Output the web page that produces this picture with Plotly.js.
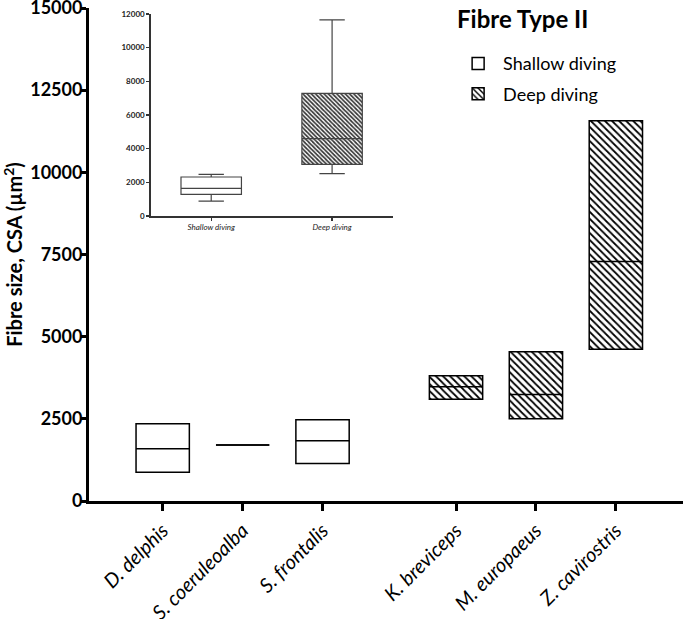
<!DOCTYPE html>
<html>
<head>
<meta charset="utf-8">
<script src="https://cdn.plot.ly/plotly-3.0.1.min.js"></script>
<style>html,body{margin:0;padding:0;background:#fff;}#chart{width:685px;height:619px;}</style>
</head>
<body>
<div id="chart"></div>
<script>
// ---- main chart data ----
const shallowSpecies = ["D. delphis", "S. coeruleoalba", "S. frontalis"];
const shallowPos = [1, 2, 3];
const shallowQ1 = [877, 1702, 1140];
const shallowMedian = [1593, 1702, 1835];
const shallowQ3 = [2349, 1702, 2470];

const deepSpecies = ["K. breviceps", "M. europaeus", "Z. cavirostris"];
const deepPos = [4.67, 5.67, 6.67];
const deepQ1 = [3093, 2500, 4616];
const deepMedian = [3476, 3244, 7285];
const deepQ3 = [3809, 4544, 11569];

const yTicks = [0, 2500, 5000, 7500, 10000, 12500, 15000];

// ---- inset data ----
const insetGroups = ["Shallow diving", "Deep diving"];
const insetLow = [891, 2513];
const insetQ1 = [1289, 3071];
const insetMedian = [1645, 4592];
const insetQ3 = [2317, 7288];
const insetHigh = [2477, 11642];
const insetTicks = [0, 2000, 4000, 6000, 8000, 10000, 12000];

const legendTitle = "Fibre Type II";

const boxW = 0.667;
function medianLine(pos, med) {
  const xs = [], ys = [];
  pos.forEach((p, i) => { xs.push(p - boxW / 2, p + boxW / 2, null); ys.push(med[i], med[i], null); });
  return { x: xs, y: ys };
}
const mS = medianLine(shallowPos, shallowMedian);
const mD = medianLine(deepPos, deepMedian);

const FONT = "Lato, 'Open Sans', sans-serif";

const traces = [
  {
    type: "bar", name: "Shallow diving", legendgroup: "s", x: shallowPos,
    base: shallowQ1, y: shallowQ3.map((v, i) => v - shallowQ1[i]),
    width: boxW, marker: { color: "white", line: { color: "black", width: 1.5 } },
    xaxis: "x", yaxis: "y", hoverinfo: "skip"
  },
  {
    type: "bar", name: "Deep diving", legendgroup: "d", x: deepPos,
    base: deepQ1, y: deepQ3.map((v, i) => v - deepQ1[i]),
    width: boxW,
    marker: { color: "white", line: { color: "black", width: 1.5 },
      pattern: { shape: "\\", fgcolor: "black", bgcolor: "white", size: 5, solidity: 0.35 } },
    xaxis: "x", yaxis: "y", hoverinfo: "skip"
  },
  { type: "scatter", mode: "lines", x: mS.x, y: mS.y, line: { color: "black", width: 1.5 }, showlegend: false, hoverinfo: "skip" },
  { type: "scatter", mode: "lines", x: mD.x, y: mD.y, line: { color: "black", width: 1.5 }, showlegend: false, hoverinfo: "skip" },
  // inset hatch fill for deep diving
  {
    type: "bar", x: [insetGroups[1]], base: [insetQ1[1]], y: [insetQ3[1] - insetQ1[1]],
    width: 0.5, xaxis: "x2", yaxis: "y2", showlegend: false, hoverinfo: "skip",
    marker: { color: "white", line: { width: 0 },
      pattern: { shape: "\\", fgcolor: "#333", bgcolor: "#fff", size: 3, solidity: 0.55 } }
  },
  {
    type: "box", x: insetGroups, q1: insetQ1, median: insetMedian, q3: insetQ3,
    lowerfence: insetLow, upperfence: insetHigh, width: 0.5, whiskerwidth: 0.42,
    fillcolor: "rgba(0,0,0,0)", line: { color: "#444", width: 1.2 },
    xaxis: "x2", yaxis: "y2", showlegend: false, hoverinfo: "skip", boxpoints: false
  }
];

const layout = {
  width: 685, height: 619,
  margin: { l: 89, r: 2, t: 8, b: 118 },
  paper_bgcolor: "white", plot_bgcolor: "white",
  showlegend: true,
  barmode: "overlay",
  font: { family: FONT, color: "black" },
  xaxis: {
    range: [0.078, 7.51], tickvals: shallowPos.concat(deepPos), ticktext: shallowSpecies.concat(deepSpecies),
    tickangle: -45, ticks: "outside", ticklen: 7, tickwidth: 3, tickcolor: "black",
    showline: true, linewidth: 3, linecolor: "black", showgrid: false, zeroline: false,
    tickfont: { family: FONT, size: 20, style: "italic", color: "black" }
  },
  yaxis: {
    range: [0, 15000], tickvals: yTicks, ticktext: yTicks.map(String),
    ticks: "outside", ticklen: 5, tickwidth: 3, tickcolor: "black", ticklabeloverflow: "allow",
    ticklabelstandoff: -5,
    showline: true, linewidth: 3, linecolor: "black", showgrid: false, zeroline: false,
    tickfont: { family: FONT, size: 18, weight: "bold", color: "black" },
    title: { text: "<b>Fibre size, CSA (µm<sup>2</sup>)</b>", font: { family: FONT, size: 20, color: "black" }, standoff: 6 }
  },
  xaxis2: {
    domain: [0.104, 0.511], anchor: "y2", type: "category", range: [-0.5, 1.5],
    categoryorder: "array", categoryarray: insetGroups,
    showline: true, linewidth: 1.5, linecolor: "#333", ticks: "outside", ticklen: 3, tickwidth: 1.2, tickcolor: "#333",
    showgrid: false, zeroline: false,
    tickfont: { family: FONT, size: 8, style: "italic", color: "#222" }
  },
  yaxis2: {
    domain: [0.578, 0.988], anchor: "x2", range: [0, 12000], tickvals: insetTicks, ticktext: insetTicks.map(String),
    showline: true, linewidth: 1.5, linecolor: "#333", ticks: "outside", ticklen: 3, tickwidth: 1.2, tickcolor: "#333",
    showgrid: false, zeroline: false,
    tickfont: { family: FONT, size: 8, weight: "bold", color: "#222" }
  },
  legend: {
    x: 0.613, y: 0.9245, xanchor: "left", yanchor: "top",
    bgcolor: "rgba(0,0,0,0)",
    font: { family: FONT, size: 18, color: "black" },
    itemwidth: 40, traceorder: "grouped", tracegroupgap: 4
  },
  annotations: [{
    xref: "paper", yref: "paper", x: 0.616, y: 1.0, xanchor: "left", yanchor: "top",
    text: "<b>" + legendTitle + "</b>", showarrow: false, font: { family: FONT, size: 24, color: "black" },
    xshift: 0, yshift: 6
  }]
};

Plotly.newPlot("chart", traces, layout, { staticPlot: true, displayModeBar: false });
</script>
</body>
</html>
